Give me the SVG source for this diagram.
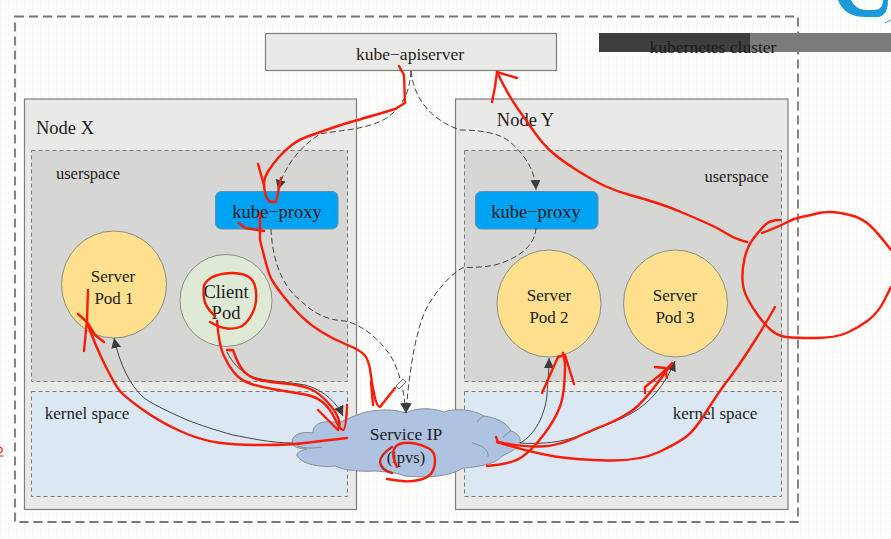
<svg xmlns="http://www.w3.org/2000/svg" width="891" height="539" viewBox="0 0 891 539">
<style>
text{font-family:"Liberation Serif","Times New Roman",serif;font-size:17.500px;fill:#1c1c1c;text-anchor:middle}
.pl{font-size:17px}
.sm{font-size:16.500px}
.lg{font-size:18.500px}
.node{fill:#e9e9e7;stroke:#7f7f7f;stroke-width:1.2}
.user{fill:#d6d6d4;stroke:#7a7a7a;stroke-width:1;stroke-dasharray:4 3}
.kern{fill:#dbe8f4;stroke:#7a7a7a;stroke-width:1;stroke-dasharray:4 3}
.proxy{fill:#00a2f2;stroke:#5a8fb0;stroke-width:1}
.pod{fill:#fee08f;stroke:#8d8d80;stroke-width:1}
.cli{fill:#deead6;stroke:#8d8d80;stroke-width:1}
.dash{fill:none;stroke:#444;stroke-width:1;stroke-dasharray:6 3}
.solid{fill:none;stroke:#444;stroke-width:1}
.red{fill:none;stroke:#fb1c08;stroke-width:2.400;stroke-linecap:round;stroke-linejoin:round}
.dark{stroke:#c42a1c}
</style>
<defs>
<marker id="ah" markerUnits="userSpaceOnUse" markerWidth="11" markerHeight="11" refX="10" refY="5" orient="auto"><path d="M0,0L10,5L0,10Z" fill="#3c3c3c"/></marker>
<pattern id="grid" width="8" height="8" patternUnits="userSpaceOnUse"><path d="M0,1H8M1,0V8" stroke="#f3f6f6" stroke-width="1" stroke-dasharray="2 2"/></pattern>
</defs>
<rect width="891" height="539" fill="#fdfdfb"/>
<rect width="891" height="539" fill="url(#grid)"/>
<rect x="15" y="16.500" width="783" height="505.500" fill="none" stroke="#777" stroke-width="1.800" stroke-dasharray="9 5"/>
<rect x="599" y="33" width="151" height="19" fill="#3f3f3d"/>
<rect x="750" y="33" width="141" height="19" fill="#7b7b79"/>
<text x="713" y="53">kubernetes cluster</text>
<path d="M838,0C842,11 851,17 866,17L878,17C885,16 888,10 888,0L883,0C883,6 880,10 874,10L866,10C859,10 854,6 851,0Z" fill="#1a9ad8"/>
<path d="M885,23L891,20" fill="none" stroke="#1a9ad8" stroke-width="1"/>
<g id="kube-apiserver"><rect class="node" x="265.500" y="33.500" width="291" height="37"/><text x="410" y="60">kube−apiserver</text></g>
<g id="node-x"><rect class="node" x="24.500" y="99" width="332" height="410.500"/><text class="lg" x="65" y="134">Node X</text></g>
<g id="node-y"><rect class="node" x="455.500" y="99" width="332.500" height="410.500"/><text class="lg" x="525.500" y="126">Node Y</text></g>
<g id="userspace-x"><rect class="user" x="31.500" y="150.500" width="316" height="231"/><text class="sm" x="88" y="179">userspace</text></g>
<g id="kernel-x"><rect class="kern" x="31.500" y="391.500" width="316" height="105"/><text class="pl" x="87" y="419">kernel space</text></g>
<g id="userspace-y"><rect class="user" x="464.500" y="150.500" width="317" height="231"/><text class="sm" x="736.500" y="182">userspace</text></g>
<g id="kernel-y"><rect class="kern" x="464.500" y="391.500" width="317" height="105"/><text class="pl" x="715" y="419">kernel space</text></g>
<g id="kube-proxy-x"><rect class="proxy" x="215.500" y="191.500" width="122.500" height="37.500" rx="6"/><text class="lg" x="277" y="218">kube−proxy</text></g>
<g id="kube-proxy-y"><rect class="proxy" x="475.500" y="191.500" width="122.500" height="37.500" rx="6"/><text class="lg" x="536" y="218">kube−proxy</text></g>
<g id="server-pod-1"><ellipse class="pod" cx="114" cy="284.500" rx="52.500" ry="53.500"/><text class="pl" x="113" y="282">Server</text><text class="pl" x="114" y="304">Pod 1</text></g>
<g id="client-pod"><circle class="cli" cx="226" cy="300.500" r="46"/><text class="lg" x="226" y="298">Client</text><text class="lg" x="226" y="319">Pod</text></g>
<g id="server-pod-2"><ellipse class="pod" cx="549" cy="303.500" rx="52" ry="53.500"/><text class="pl" x="549" y="301">Server</text><text class="pl" x="549" y="323">Pod 2</text></g>
<g id="server-pod-3"><ellipse class="pod" cx="675.500" cy="303.500" rx="52" ry="53.500"/><text class="pl" x="675" y="301">Server</text><text class="pl" x="675" y="323">Pod 3</text></g>
<g id="service-ip"><path d="M292,442C292,434 303,431 313,433C312,425 322,419 338,423C350,418 362,412 372,411C385,409 398,410 406,413C415,408 430,407 444,412C455,408 472,409 484,416C498,418 508,424 511,431C518,433 521,438 520,442C517,450 508,453 502,456C498,463 480,467 463,468C450,477 425,478 405,476C395,472 385,472 375,471C360,472 343,470 335,466C320,468 302,464 297,456C296,452 302,450 307,449C299,449 292,447 292,442Z" fill="#aec3e2" stroke="#8a8f96" stroke-width="1"/><path d="M472,443C482,445 489,450 488,457M297,446C305,449 315,448 322,447M511,431C508,433 504,435 503,438M484,416C480,418 478,420 477,422" fill="none" stroke="#8a8f96" stroke-width="1"/><text x="406" y="440">Service IP</text><text class="sm" x="406" y="463">(ipvs)</text></g>
<g id="connectors">
<path class="dash" marker-end="url(#ah)" d="M411,71C410,90 404,107 385,119C365,130 340,130 320,134C300,147 285,165 278,190"/>
<path class="dash" marker-end="url(#ah)" d="M411,71C414,100 432,120 460,130C480,130 500,133 510,142C525,155 535,170 536,190"/>
<path class="dash" marker-end="url(#ah)" d="M271,229C272,255 280,285 300,300C312,312 325,320 345,321C365,325 385,345 393,360C400,375 404,390 406,413"/>
<path class="dash" marker-end="url(#ah)" d="M536,228C535,245 520,258 495,265C480,268 470,267 462,268C450,275 437,290 427,307C418,325 410,360 406,413"/>
<path class="solid" marker-end="url(#ah)" d="M227,352C232,362 240,372 253,377C270,382 290,382 305,385C325,390 338,405 343,416"/>
<path class="solid" marker-end="url(#ah)" d="M293,443C270,443 250,438 233,435C215,430 200,425 187,420C165,410 150,403 143,397C130,385 120,365 114,338"/>
<path class="solid" marker-end="url(#ah)" d="M520,443C535,435 545,415 547,395C548,380 549,370 549,358"/>
<path class="solid" marker-end="url(#ah)" d="M520,443C535,444 550,443 560,441C575,438 580,435 588,433C605,425 620,420 632,413C650,403 665,385 675,361"/>
<path d="M396,386L403,379L406,382L399,389Z" fill="#fff" stroke="#555" stroke-width="0.800"/>
</g>
<g id="red-annotations">
<path class="red" d="M399,66L404,75L405,103L395,109Q365,118 352.500,121.500Q340,125 327.500,129.500Q315,134 307.500,136.500Q300,139 292.500,144.500Q285,150 278.500,157.500Q272,165 268,171.500Q264,178 264,184Q264,190 266,196Q268,202 272,202L276,202L281,178"/>
<path class="red" d="M258,164L264,185"/>
<path class="red" d="M260,213L260,240Q265,260 267.500,268.500Q270,277 272.500,281Q275,285 282.500,295Q290,305 300,315Q310,325 322.500,332.500Q335,340 347.500,345Q360,350 364.500,355Q369,360 370.500,372.500Q372,385 374.500,396Q377,407 380,407L395,388"/>
<path class="red" d="M371,382L373,405"/>
<path class="red" d="M239,223L245,228L264,231"/>
<path class="red" d="M215,316Q205,307 204,298.500Q203,290 204,286Q205,282 210,278.500Q215,275 225,273.500Q235,272 243.500,274.500Q252,277 254.500,284.500Q257,292 256,301Q255,310 250,317.500Q245,325 240,327Q235,329 227.500,328.500Q220,328 210,322"/>
<path class="red" d="M217,321Q219,345 223.500,355Q228,365 234,372.500Q240,380 250,383.500Q260,387 275,389.500Q290,392 302.500,394Q315,396 322.500,402Q330,408 335,419Q340,430 343,430Q346,430 347,405"/>
<path class="red" d="M227,350L233,350Q238,365 244,371.500Q250,378 260,380Q270,382 285,383.500Q300,385 309,388.500Q318,392 326.500,401Q335,410 338,417.500Q341,425 338,430L318,410"/>
<path class="red" d="M88,290L87,320L84,351"/>
<path class="red" d="M78,314L87,322L95,335L104,342"/>
<path class="red" d="M87,322Q95,345 105,365Q115,385 120,391Q125,397 142.500,409.500Q160,422 180,431Q200,440 217.500,442.500Q235,445 262.500,445Q290,445 305,443Q320,441 347,438"/>
<path class="red" d="M397,467Q392,457 393.500,451Q395,445 401,443.500Q407,442 415,443.500Q423,445 429,448.500Q435,452 435,460Q435,468 431.500,473Q428,478 419,480Q410,482 401.500,481Q393,480 387,479"/>
<path class="red dark" d="M392,447Q380,455 380,462Q381,470 392,473"/>
<path class="red" d="M487,466Q512,464 522,457Q532,450 543.500,435Q555,420 560,406.500Q565,393 565,363L563,353"/>
<path class="red" d="M542,393L558,357L565,355L574,384"/>
<path class="red" d="M496,437L498,442Q522,447 540,446.500Q558,446 575,438Q592,430 605,425Q618,420 631.500,411Q645,402 672,363"/>
<path class="red" d="M655,367L665,368L667,378"/>
<path class="red" d="M645,393L645,387L660,375L672,364"/>
<path class="red" d="M497,442Q532,453 555,456.500Q578,460 609,460.500Q640,461 659,452Q678,443 686.500,436.500Q695,430 706.500,411.500Q718,393 728,380Q738,367 751.500,346Q765,325 775,307"/>
<path class="red" d="M780,220Q770,220 765,225Q760,230 753.500,238.500Q747,247 744.500,258.500Q742,270 742.500,280Q743,290 747.500,298.500Q752,307 758.500,316Q765,325 771.500,330.500Q778,336 786.500,337Q795,338 815,338Q835,338 846.500,333Q858,328 868,320.500Q878,313 884.500,300Q891,287 891,287"/>
<path class="red" d="M762,233Q778,227 786.500,222.500Q795,218 803.500,216.500Q812,215 817,213.500Q822,212 830,212Q838,212 850,215Q862,218 870,225.500Q878,233 891,250"/>
<path class="red" d="M747,242Q735,239 726.500,233.500Q718,228 706.500,223Q695,218 683.500,213Q672,208 658.500,203.500Q645,199 631.500,195.500Q618,192 605,186Q592,180 575,169Q558,158 550,150.500Q542,143 535,133Q528,123 518,109Q508,95 497,72L517,78"/>
<path class="red" d="M497,72L495,87L492,102"/>
<path class="red" d="M0,447C3,448 3,452 0,453M0,456L3,456" style="stroke-width:1.200"/>
</g>
</svg>
